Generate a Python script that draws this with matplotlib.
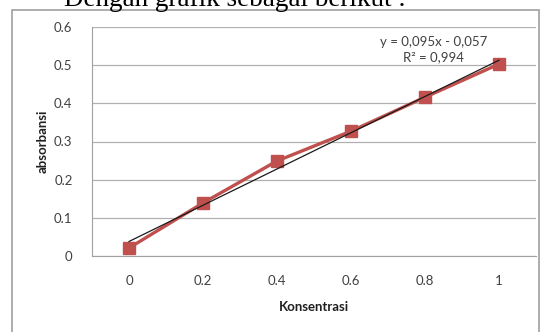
import matplotlib.pyplot as plt
from matplotlib.patches import Rectangle

# data kalibrasi
konsentrasi = ["0", "0.2", "0.4", "0.6", "0.8", "1"]
absorbansi = [0.021, 0.139, 0.249, 0.327, 0.416, 0.503]
slope = 0.095
intercept = -0.057
r2 = 0.994
y_ticks = [0, 0.1, 0.2, 0.3, 0.4, 0.5, 0.6]

plt.rcParams['font.family'] = ['Lato', 'DejaVu Sans']

fig = plt.figure(figsize=(5.41, 3.32), dpi=100)
fig.patch.set_facecolor('white')

# teks di atas grafik (terpotong di tepi atas)
fig.text(235 / 541, 1.0 - 6 / 332, "Dengan grafik sebagai berikut :", family='Liberation Serif',
         fontsize=19.5, ha='center', va='baseline', color='black')

# bingkai grafik
fig.patches.append(Rectangle((12 / 541, -0.05), 527 / 541, 1 - 10 / 332 + 0.05,
                             transform=fig.transFigure, fill=False,
                             edgecolor='#a0a0a0', linewidth=1.2))

ax = fig.add_axes([92 / 541, 1 - 256 / 332, 444 / 541, 229 / 332])
idx = list(range(1, len(konsentrasi) + 1))

# garis tren linear dari persamaan
trend = [slope * i + intercept for i in idx]
ax.plot([idx[0], idx[-1]], [trend[0], trend[-1]], color='#1a1a1a', linewidth=0.9, zorder=3)

ax.plot(idx, absorbansi, color='#c0504d', linewidth=2.4, marker='s', markersize=9,
        markerfacecolor='#c0504d', markeredgecolor='#c0504d', zorder=2)

ax.set_xlim(0.5, 6.5)
ax.set_ylim(0, 0.6)
ax.set_yticks(y_ticks)
ax.set_yticklabels([f"{v:g}" for v in y_ticks])
ax.set_xticks(idx)
ax.set_xticklabels(konsentrasi)
ax.grid(axis='y', color='#b0b0b0', linewidth=0.9)
ax.set_axisbelow(True)
for side in ['top', 'right']:
    ax.spines[side].set_visible(False)
for side in ['left', 'bottom']:
    ax.spines[side].set_color('#a0a0a0')
ax.tick_params(length=0, labelsize=9.5, colors='#404040')
ax.tick_params(axis='y', pad=14)
ax.tick_params(axis='x', pad=14)

ax.set_xlabel("Konsentrasi", fontsize=9.5, fontweight='bold', color='#202020', labelpad=10)
ax.set_ylabel("absorbansi", fontsize=9.5, fontweight='bold', color='#202020', labelpad=4)

ax.text(0.77, 0.935, f"y = {slope:.3f}x - {abs(intercept):.3f}".replace('.', ','),
        transform=ax.transAxes, fontsize=9.5, ha='center', va='center', color='#404040')
ax.text(0.77, 0.87, f"R² = {r2:.3f}".replace('.', ','),
        transform=ax.transAxes, fontsize=9.5, ha='center', va='center', color='#404040')

fig.savefig("out.png", dpi=100)
